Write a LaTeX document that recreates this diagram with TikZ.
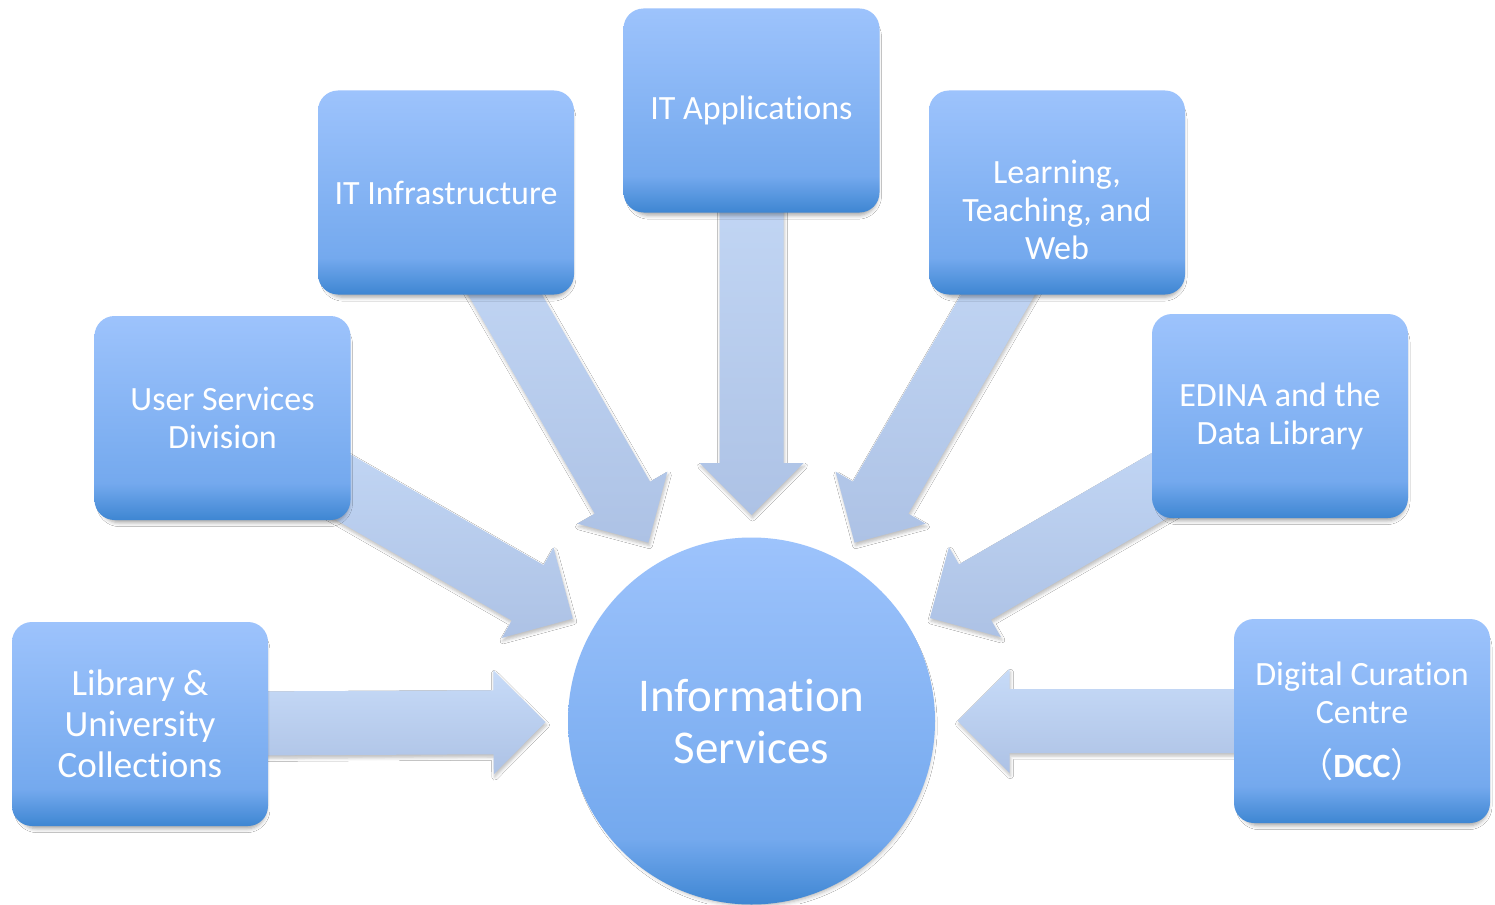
\documentclass[tikz,border=0pt]{standalone}
\usepackage{fontspec}
\setmainfont{Carlito}[Ligatures=NoCommon]
\newfontfamily\cjkfont{Noto Sans CJK SC}
\usetikzlibrary{calc,shadows.blur,backgrounds}
\definecolor{btop}{RGB}{157,195,252}
\definecolor{bmid}{RGB}{116,169,238}
\definecolor{bbot}{RGB}{62,134,210}
\definecolor{atop}{RGB}{199,219,248}
\definecolor{abot}{RGB}{173,194,229}
\pgfdeclareverticalshading{boxshade}{100bp}{color(0bp)=(bbot); color(25bp)=(bbot); color(34bp)=(bmid); color(75bp)=(btop); color(100bp)=(btop)}
\tikzset{
  boxnode/.style={rectangle, rounded corners=20pt, minimum width=256pt, minimum height=204pt,
    shading=boxshade, text=white, align=center, font=\fontsize{34}{38}\selectfont, inner sep=4pt,
    blur shadow={shadow xshift=2pt, shadow yshift=-6pt, shadow scale=0.97, shadow blur radius=4pt, shadow opacity=35}},
  boxtext/.style={text=white, align=center, font=\fontsize{34}{38}\selectfont, inner sep=0pt},
  hubnode/.style={circle, minimum size=367pt, shading=boxshade, text=white, align=center,
    font=\fontsize{47}{52}\selectfont,
    blur shadow={shadow xshift=2pt, shadow yshift=-5pt, shadow scale=0.98, shadow blur radius=4pt, shadow opacity=30}},
  arrowfill/.style={top color=atop, bottom color=abot,
    blur shadow={shadow xshift=1pt, shadow yshift=-3pt, shadow blur radius=3pt, shadow opacity=25}}
}
\newcommand\blockarrow[2]{%
  \path ($(#2)!52pt!(#1.center)$) coordinate (hb);
  \path[arrowfill] ($(#1.center)!32pt!90:(#2)$) -- ($(hb)!32pt!90:(#2)$) -- ($(hb)!52pt!90:(#2)$)
    -- (#2) -- ($(hb)!52pt!-90:(#2)$) -- ($(hb)!32pt!-90:(#2)$) -- ($(#1.center)!32pt!-90:(#2)$) -- cycle;}
\begin{document}
\begin{tikzpicture}[x=1pt,y=-1pt]
\path[use as bounding box] (0,0) rectangle (1495,904);
% hub
\node[hubnode] (is) at (751.5,721) {Information\\Services};
% boxes
\node[boxnode, font=\fontsize{37}{41}\selectfont] (lib) at (140,724) {Library \&\\University\\Collections};
\node[boxnode] (usd) at (222.5,418) {User Services\\Division};
\node[boxnode] (itinf) at (446,192.5) {IT Infrastructure};
\node[boxnode] (itapp) at (751.5,110.5) {IT Applications};
\node[boxnode] (ltw) at (1057,192.5) {};
\node[boxtext] (ltwtext) at (1057,210) {Learning,\\Teaching, and\\Web};
\node[boxnode] (edina) at (1280,416) {EDINA and the\\Data Library};
\node[boxnode] (dcc) at (1362,721) {Digital Curation\\Centre\\[16pt]{\cjkfont （}\textbf{DCC}{\cjkfont ）}};
% arrow tips
\foreach \b in {lib,usd,itinf,itapp,ltw,edina,dcc}
  \coordinate (tip-\b) at ($(is.center)!206pt!(\b.center)$);
\begin{pgfonlayer}{background}
  \fill[white] (0,0) rectangle (1495,904);
  \blockarrow{lib}{tip-lib}
  \blockarrow{usd}{tip-usd}
  \blockarrow{itinf}{tip-itinf}
  \blockarrow{itapp}{tip-itapp}
  \blockarrow{ltw}{tip-ltw}
  \blockarrow{edina}{tip-edina}
  \blockarrow{dcc}{tip-dcc}
\end{pgfonlayer}
\end{tikzpicture}
\end{document}
